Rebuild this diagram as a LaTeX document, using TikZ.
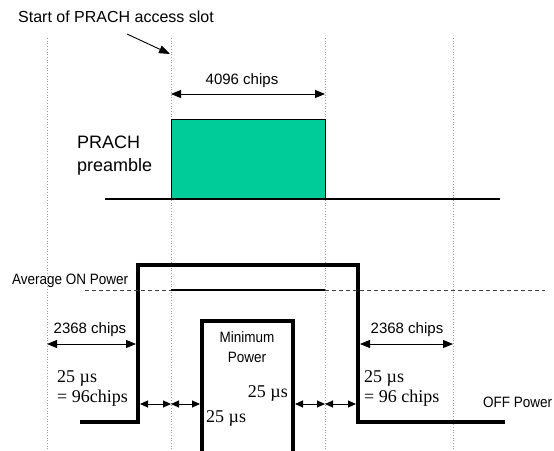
\documentclass[tikz,border=0pt]{standalone}
\usepackage{fontspec}
\setmainfont{Liberation Sans}
\newfontfamily\serifx{Liberation Serif}
\newfontfamily\condsans[FakeStretch=0.9]{Liberation Sans}
\usetikzlibrary{arrows.meta}
\definecolor{preamblegreen}{RGB}{0,204,153}
\begin{document}
\begin{tikzpicture}[x=1pt,y=-1pt,
  guide/.style={draw=gray!80, dotted, line width=0.7pt},
  dimarrow/.style={{Triangle[length=10pt,width=8pt]}-{Triangle[length=10pt,width=8pt]}, line width=1pt},
  smallarrow/.style={{Triangle[length=8pt,width=7pt]}-{Triangle[length=8pt,width=7pt]}, line width=0.9pt},
  pointer/.style={-{Triangle[length=11pt,width=8pt]}, line width=0.9pt},
  power/.style={line width=3.7pt, line join=miter},
  avgline/.style={line width=1.3pt},
  avgdash/.style={line width=1pt, draw=black!75, dash pattern=on 4pt off 3pt},
  sanslbl/.style={inner sep=0pt, font=\fontsize{15}{18}\selectfont},
  condlbl/.style={inner sep=0pt, font=\condsans\fontsize{15}{18}\selectfont},
  seriflbl/.style={inner sep=0pt, font=\serifx\fontsize{18}{20}\selectfont},
  bigsans/.style={inner sep=0pt, font=\fontsize{18}{22}\selectfont}
]
\useasboundingbox (0,0) rectangle (554,450);
\fill[white] (0,0) rectangle (554,450);

% dotted guides
\coordinate (g1t) at (47,38);  \coordinate (g1b) at (47,450);
\coordinate (g2t) at (171,38); \coordinate (g2b) at (171,450);
\coordinate (g3t) at (325,38); \coordinate (g3b) at (325,450);
\coordinate (g4t) at (453,38); \coordinate (g4b) at (453,450);
\draw[guide] (g1t) -- (g1b);
\draw[guide] (g2t) -- (g2b);
\draw[guide] (g3t) -- (g3b);
\draw[guide] (g4t) -- (g4b);

% start of slot
\node (start) [anchor=base west, font=\fontsize{16}{18}\selectfont, inner sep=0pt] at (18,22) {Start of PRACH access slot};
\coordinate (ptail) at (127,34);
\coordinate (phead) at (170,54);
\draw[pointer] (ptail) -- (phead);

% 4096 chips
\coordinate (c4l) at (171,94);
\coordinate (c4r) at (325,94);
\draw[dimarrow] (c4l) -- (c4r);
\node (t4096) [sanslbl, anchor=base] at (242,84) {4096 chips};

% preamble
\node (pre) [draw, line width=1.2pt, fill=preamblegreen, minimum width=154pt, minimum height=80pt, anchor=north west, inner sep=0pt] at (171,119) {};
\coordinate (bl1) at (105,199);
\coordinate (bl2) at (500,199);
\draw[line width=2pt] (bl1) -- (bl2);
\node (prach) [bigsans, anchor=base west] at (77,148) {PRACH};
\node (pream) [bigsans, anchor=base west] at (77,171) {preamble};

% power profile
\coordinate (p1) at (80,422);
\coordinate (p2) at (138,422);
\coordinate (p3) at (138,265);
\coordinate (p4) at (358,265);
\coordinate (p5) at (358,422);
\coordinate (p6) at (505,422);
\draw[power] (p1) -- (p2) -- (p3) -- (p4) -- (p5) -- (p6);

% average on power line
\coordinate (a1) at (85,290);
\coordinate (a2) at (171,290);
\coordinate (a3) at (325,290);
\coordinate (a4) at (545,290);
\draw[avgdash] (a1) -- (a2);
\draw[avgline] (a2) -- (a3);
\draw[avgdash] (a3) -- (a4);
\node (avg) [condlbl, anchor=base west] at (12,284) {Average ON Power};

% minimum power box
\coordinate (m1) at (202,452);
\coordinate (m2) at (202,321);
\coordinate (m3) at (293,321);
\coordinate (m4) at (293,452);
\draw[power] (m1) -- (m2) -- (m3) -- (m4);
\node (minp) [condlbl, anchor=base] at (247,342) {Minimum};
\node (minp2) [condlbl, anchor=base] at (247,362) {Power};

% 2368 chips
\coordinate (l1) at (47,344);
\coordinate (l2) at (136,344);
\draw[dimarrow] (l1) -- (l2);
\node (tl) [sanslbl, anchor=base] at (90,333) {2368 chips};
\coordinate (r1) at (360,344);
\coordinate (r2) at (453,344);
\draw[dimarrow] (r1) -- (r2);
\node (tr) [sanslbl, anchor=base] at (407,333) {2368 chips};

% 25 us labels
\node (lus) [seriflbl, anchor=base west] at (57,382) {25 µs};
\node (lch) [seriflbl, anchor=base west] at (57,402) {= 96chips};
\node (rus) [seriflbl, anchor=base west] at (364,382) {25 µs};
\node (rch) [seriflbl, anchor=base west] at (364,402) {= 96 chips};
\node (ius) [seriflbl, anchor=base east] at (288,397) {25 µs};
\node (jus) [seriflbl, anchor=base west] at (206,422) {25 µs};

% small arrows
\coordinate (s1) at (140,404);
\coordinate (s2) at (171,404);
\coordinate (s3) at (200,404);
\coordinate (s4) at (295,404);
\coordinate (s5) at (325,404);
\coordinate (s6) at (356,404);
\draw[smallarrow] (s1) -- (s2);
\draw[smallarrow] (s2) -- (s3);
\draw[smallarrow] (s4) -- (s5);
\draw[smallarrow] (s5) -- (s6);

% off power
\node (off) [condlbl, anchor=base west] at (483,407) {OFF Power};
\end{tikzpicture}
\end{document}
